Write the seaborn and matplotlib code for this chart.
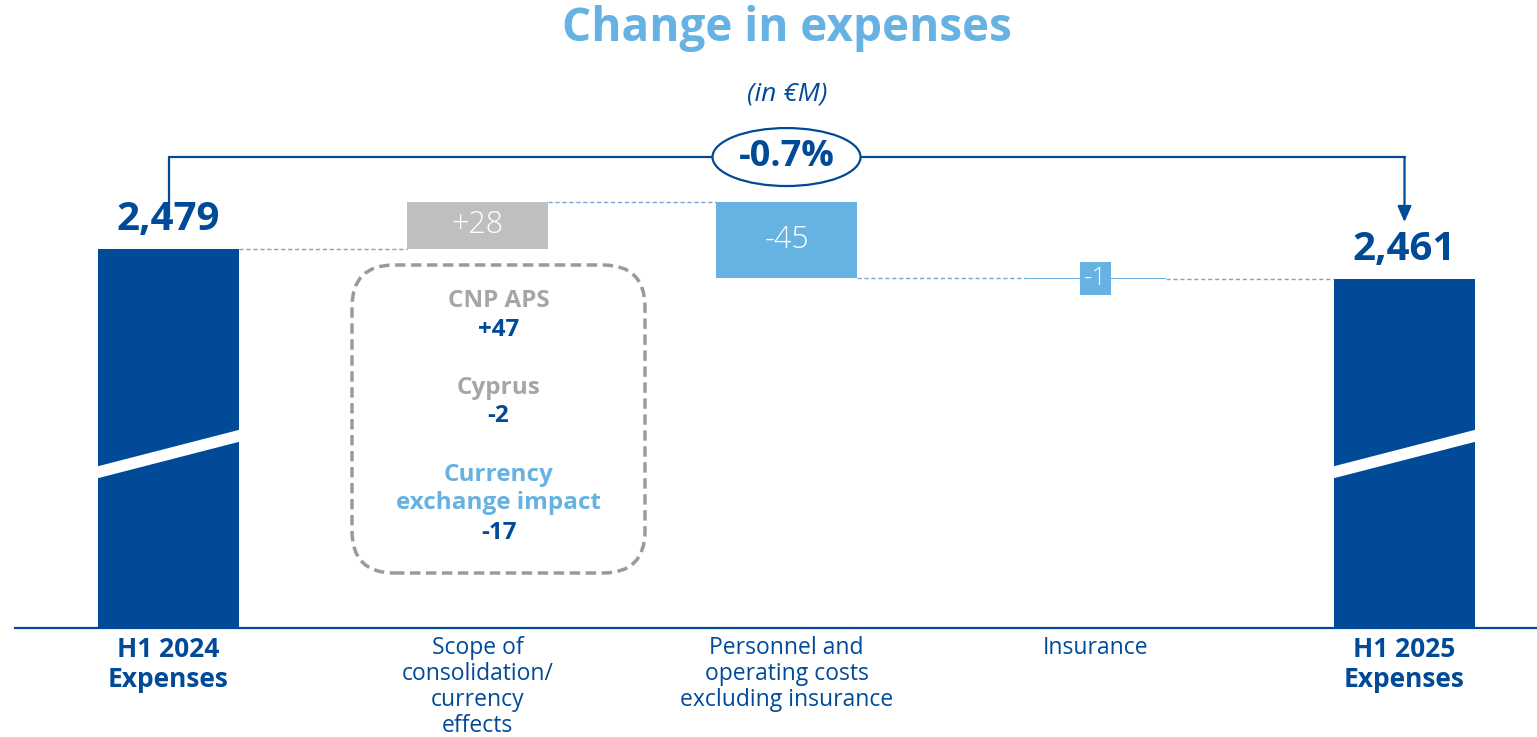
import matplotlib
matplotlib.use("Agg")
import matplotlib.pyplot as plt
from matplotlib.patches import Ellipse, FancyBboxPatch
import numpy as np
import pandas as pd
import seaborn as sns

# data (in EUR M)
CATEGORIES = [
    "H1 2024\nExpenses",
    "Scope of\nconsolidation/\ncurrency\neffects",
    "Personnel and\noperating costs\nexcluding insurance",
    "Insurance",
    "H1 2025\nExpenses",
]
START = 2479
END = 2461
DELTAS = [28, -45, -1]
CHANGE_PCT = -0.7
DETAIL_NAMES = ["CNP APS", "Cyprus", "Currency\nexchange impact"]
DETAIL_VALUES = [47, -2, -17]

DARK = "#004A98"
LIGHT = "#66B2E2"
GRAY_BAR = "#BFBFBF"
GRAY_TXT = "#A6A6A6"
DASH = "#7AA0D4"
DELTA_COLORS = [GRAY_BAR, LIGHT, LIGHT]
BAR_W = 0.456

sns.set_theme(style="white")
plt.rcParams["font.family"] = ["Open Sans", "DejaVu Sans"]

W, H = 1537, 737
fig = plt.figure(figsize=(W / 100, H / 100), dpi=100)
ax = fig.add_axes([15 / W, 109 / H, 1522 / W, 628 / H])

totals = pd.DataFrame({"cat": [CATEGORIES[0], CATEGORIES[-1]], "value": [START, END]})
sns.barplot(totals, x="cat", y="value", order=CATEGORIES, color=DARK, saturation=1,
            width=BAR_W, errorbar=None, linewidth=0, ax=ax)

levels = START + np.cumsum([0] + DELTAS)
for i, d in enumerate(DELTAS):
    lo = min(levels[i], levels[i + 1])
    sns.barplot(x=[CATEGORIES[i + 1]], y=[abs(d)], order=CATEGORIES, bottom=lo,
                color=DELTA_COLORS[i], saturation=1, width=BAR_W, errorbar=None,
                linewidth=0, ax=ax)

ax.set_xlim(-0.4968, 4.4288)
ax.set_ylim(2254.1, 2626.8)

# axis break slashes on the total bars
hw = BAR_W / 2
for c in (0, 4):
    yl, yr, t = 2346.1, 2368.6, 7.1
    ax.fill([c - hw - 0.01, c + hw + 0.01, c + hw + 0.01, c - hw - 0.01],
            [yl + t / 2, yr + t / 2, yr - t / 2, yl - t / 2], color="white", lw=0, zorder=5)

# dashed connectors
for i in range(4):
    ax.plot([i + hw, i + 1 - hw], [levels[i], levels[i]], color=DASH, lw=1,
            dashes=(3, 2), zorder=3)

# value labels
for c, v in ((0, START), (4, END)):
    ax.text(c, v + 6, f"{v:,}", ha="center", va="bottom", fontsize=29,
            fontweight="bold", color=DARK)
for i, d in enumerate(DELTAS):
    mid = (levels[i] + levels[i + 1]) / 2
    if abs(d) >= 10:
        ax.text(i + 1, mid, f"{d:+d}", ha="center", va="center", fontsize=22,
                color="white", fontweight="light")
    else:
        ax.text(i + 1, mid, f"{d:+d}", ha="center", va="center", fontsize=19,
                color="white", fontweight="light",
                bbox=dict(boxstyle="square,pad=0.15", fc=LIGHT, ec="none"))

# bracket with arrow and percentage
by = 2533.6
ax.plot([0, 0, 4], [START + 19, by, by], color=DARK, lw=1.6, solid_joinstyle="miter")
ax.annotate("", xy=(4, END + 34), xytext=(4, by),
            arrowprops=dict(arrowstyle="-|>,head_length=0.8,head_width=0.35",
                            color=DARK, lw=1.6, shrinkA=0, shrinkB=0))
ax.add_patch(Ellipse((2, by), 0.479, 34.4, fc="white", ec=DARK, lw=1.6, zorder=6))
ax.text(2, by, f"{CHANGE_PCT:+.1f}%", ha="center", va="center", fontsize=26,
        fontweight="bold", color=DARK, zorder=7)

# detail box
ax.add_patch(FancyBboxPatch((3.52, 1.64), 2.93, 3.08,
                            boxstyle="round,pad=0,rounding_size=0.42",
                            transform=fig.dpi_scale_trans, fill=False, ec="#9A9A9A",
                            lw=2.5, ls=(0, (3, 1.6)), clip_on=False))
name_y = [301, 388, 489]
val_y = [330, 416, 533]
for n, v, ny, vy, col in zip(DETAIL_NAMES, DETAIL_VALUES, name_y, val_y,
                             [GRAY_TXT, GRAY_TXT, LIGHT]):
    fig.text(498.5 / W, 1 - ny / H, n, ha="center", va="center", fontsize=17.5,
             fontweight="bold", color=col, linespacing=1.2)
    fig.text(498.5 / W, 1 - vy / H, f"{v:+d}", ha="center", va="center", fontsize=17.5,
             fontweight="bold", color=DARK)

# titles
fig.text(787 / W, 1 - 29 / H, "Change in expenses", ha="center", va="center",
         fontsize=33, fontweight="bold", color=LIGHT)
fig.text(787 / W, 1 - 94 / H, "(in €M)", ha="center", va="center", fontsize=19,
         fontstyle="italic", color=DARK)

# axes styling
ax.set_xticks(range(len(CATEGORIES)), CATEGORIES)
ax.set_yticks([])
ax.set_xlabel("")
ax.set_ylabel("")
ax.tick_params(axis="x", length=0, pad=6)
for i, lab in enumerate(ax.get_xticklabels()):
    lab.set_color(DARK)
    if i in (0, 4):
        lab.set_fontsize(19)
        lab.set_fontweight("bold")
        lab.set_linespacing(1.12)
    else:
        lab.set_fontsize(16.5)
        lab.set_linespacing(1.1)
for s in ("top", "left", "right"):
    ax.spines[s].set_visible(False)
ax.spines["bottom"].set_color(DARK)
ax.spines["bottom"].set_linewidth(1.6)
ax.patch.set_alpha(0)

fig.savefig("out.png", dpi=100)
